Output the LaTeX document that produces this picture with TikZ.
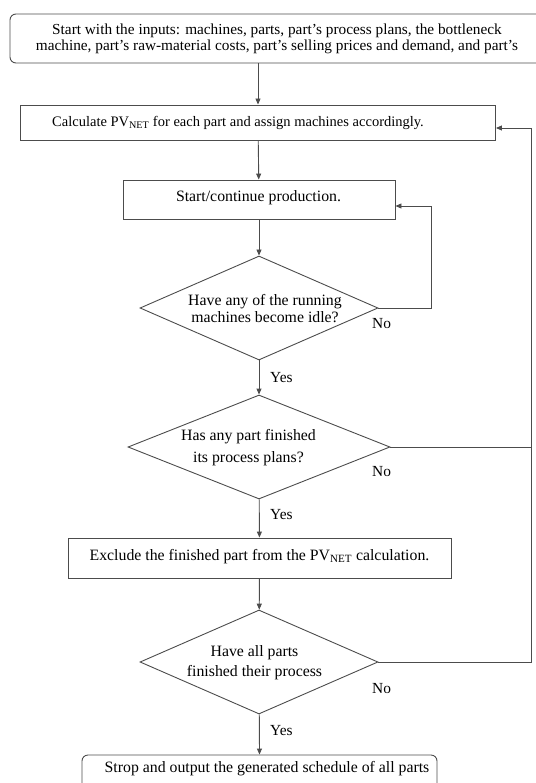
\documentclass[tikz,border=0pt]{standalone}
\usepackage{fontspec}
\setmainfont{Liberation Serif}
\usetikzlibrary{shapes.geometric,arrows.meta}
\begin{document}
\begin{tikzpicture}[x=1pt,y=-1pt,
  every node/.style={font=\fontsize{15.8}{16}\selectfont},
  line/.style={draw=black!70,line width=0.9pt},
  arr/.style={line,-{Triangle[length=6pt,width=5pt]}},
  procbox/.style={line,rectangle,inner sep=0pt},
  termbox/.style={line,rectangle,rounded corners=6pt,inner sep=0pt},
  decision/.style={line,diamond,inner sep=0pt},
  txt/.style={inner sep=0pt,align=center},
  lbl/.style={inner sep=0pt,anchor=west,font=\fontsize{15.4}{16}\selectfont}]
\useasboundingbox (0,0) rectangle (535,783);
% shapes
\node[termbox,minimum width=534pt,minimum height=49pt] (start) at (277,38.5) {};
\node[procbox,minimum width=475pt,minimum height=35pt] (calc) at (258,122.5) {};
\node[procbox,minimum width=272pt,minimum height=39pt] (prod) at (259,199.5) {};
\node[decision,minimum width=238pt,minimum height=104pt] (d1) at (259,308) {};
\node[decision,minimum width=262pt,minimum height=104pt] (d2) at (259,447) {};
\node[procbox,minimum width=383pt,minimum height=40pt] (excl) at (259.5,558) {};
\node[decision,minimum width=238pt,minimum height=104pt] (d3) at (259,662) {};
\node[termbox,minimum width=355pt,minimum height=50pt] (stop) at (259.5,780) {};
% texts
\node[txt,font=\fontsize{15.3}{16}\selectfont] (tstart) at (277,38.5)
  {Start with the inputs: machines, parts, part's process plans, the bottleneck\\
   machine, part's raw-material costs, part's selling prices and demand, and part's};
\node[txt,font=\fontsize{14.5}{16}\selectfont] (tcalc) at (238,122.5)
  {Calculate PV\textsubscript{NET} for each part and assign machines accordingly.};
\node[txt] (tprod) at (258.5,197.5) {Start/continue production.};
\node[txt,font=\fontsize{15.8}{17}\selectfont] (td1) at (265,308.5)
  {Have any of the running\\ machines become idle?};
\node[txt,font=\fontsize{15.8}{22}\selectfont] (td2) at (248.5,447.5)
  {Has any part finished\\ its process plans?};
\node[txt] (texcl) at (259.5,556.5)
  {Exclude the finished part from the PV\textsubscript{NET} calculation.};
\node[txt,font=\fontsize{15.8}{20}\selectfont] (td3) at (254.5,663)
  {Have all parts\\ finished their process};
\node[txt] (tstop) at (267,769)
  {Strop and output the generated schedule of all parts};
% connectors
\coordinate (rtop) at (531,128);
\coordinate (r2) at (531,447);
\coordinate (r3) at (531,662);
\coordinate (loopc) at (431,308);
\coordinate (loopt) at (431,206);
\draw[arr] (start.south -| calc.north) -- (calc.north);
\draw[arr] (calc) -- (prod);
\draw[arr] (prod) -- (d1);
\draw[arr] (d1) -- (d2);
\draw[arr] (d2) -- (excl);
\draw[arr] (excl) -- (d3);
\draw[arr] (d3) -- (stop.north);
\draw[arr] (d1.east) -- (loopc) -- (loopt) -- (prod.east |- loopt);
\draw[line] (d2.east) -- (r2);
\draw[arr] (d3.east) -- (r3) -- (rtop) -- (calc.east |- rtop);
% labels
\node[lbl] (no1) at (372,324) {No};
\node[lbl] (yes1) at (270,378) {Yes};
\node[lbl] (no2) at (372,472) {No};
\node[lbl] (yes2) at (270,515) {Yes};
\node[lbl] (no3) at (372,689) {No};
\node[lbl] (yes3) at (270,731) {Yes};
\end{tikzpicture}
\end{document}
